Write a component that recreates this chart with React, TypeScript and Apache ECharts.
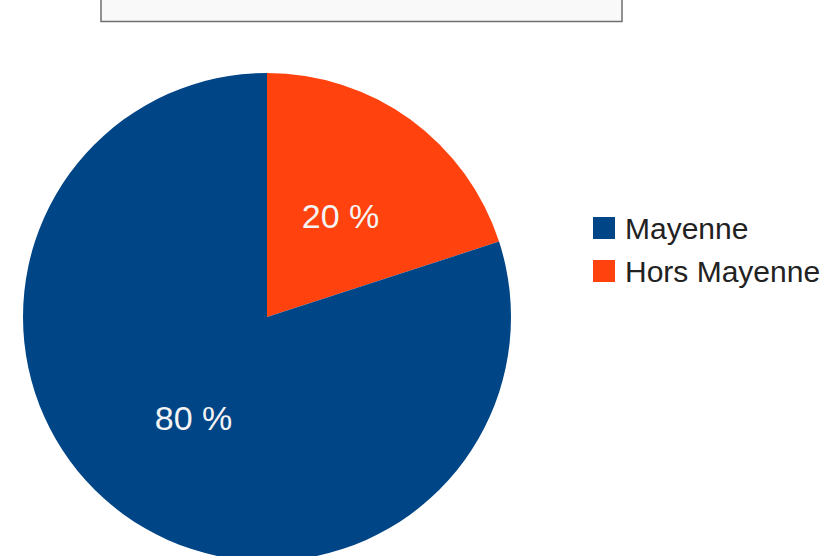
import React, { useEffect, useRef } from "react";
import * as echarts from "echarts";

const categories = ["Hors Mayenne", "Mayenne"];
const values = [20, 80];
const colors = ["#ff420e", "#004586"];
const legendOrder = ["Mayenne", "Hors Mayenne"];

export default function App() {
  const ref = useRef<HTMLDivElement>(null);
  useEffect(() => {
    document.body.style.margin = "0";
    const chart = echarts.init(ref.current!, undefined, { renderer: "svg" });
    chart.setOption({
      animation: false,
      backgroundColor: "#ffffff",
      graphic: [
        {
          type: "rect",
          shape: { x: 101, y: -6, width: 521, height: 27.5 },
          style: { fill: "#f9f9f9", stroke: "#6f6f6f", lineWidth: 1.5 },
        },
      ],
      legend: {
        orient: "vertical",
        left: 588,
        top: 208,
        data: legendOrder,
        itemWidth: 22,
        itemHeight: 22,
        itemGap: 13,
        icon: "rect",
        textStyle: {
          fontFamily: "Liberation Sans",
          fontSize: 30,
          lineHeight: 30,
          color: "#222",
          padding: [0, 0, 0, 5],
        },
      },
      series: [
        {
          type: "pie",
          center: [267, 317],
          radius: 244,
          startAngle: 90,
          clockwise: true,
          data: categories.map((c, i) => ({
            name: c,
            value: values[i],
            itemStyle: { color: colors[i] },
          })),
          label: {
            show: true,
            position: "inside",
            formatter: (p: any) => `${p.value} %`,
            fontFamily: "Liberation Sans",
            fontSize: 34,
            color: "#f4f4f4",
          },
          labelLine: { show: false },
          emphasis: { disabled: true },
        },
      ],
    });
    return () => chart.dispose();
  }, []);
  return <div ref={ref} style={{ width: 830, height: 556 }} />;
}
